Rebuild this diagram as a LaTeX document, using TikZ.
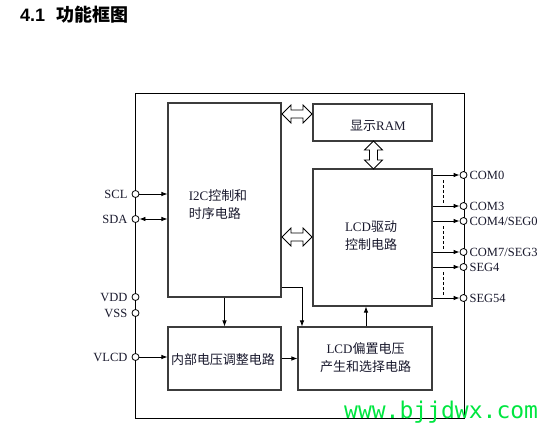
\documentclass[tikz,border=0pt]{standalone}
\usepackage{fontspec}
\setmainfont{Liberation Serif}
\newfontfamily\cjk{Noto Sans CJK SC}
\newfontfamily\titlefont{Liberation Sans}
\newfontfamily\wmfont{DejaVu Sans Mono}
\usetikzlibrary{arrows.meta}
\definecolor{boxc}{RGB}{60,60,60}
\definecolor{txtc}{RGB}{25,25,45}
\definecolor{wmgreen}{RGB}{0,230,64}
\newcommand{\zh}[1]{{\cjk #1}}
\begin{document}
\begin{tikzpicture}[x=1pt,y=-1pt,
  blk/.style={draw=boxc, line width=1.1pt, rectangle, inner sep=0pt},
  txt/.style={text=txtc, font=\fontsize{13}{18}\selectfont, inner sep=0pt, align=center},
  pinc/.style={circle, draw=black, fill=white, line width=0.8pt, minimum size=7pt, inner sep=0pt},
  pinl/.style={text=txtc, font=\fontsize{12.5}{14}\selectfont, inner sep=0pt},
  arr/.style={draw=black, line width=0.8pt, -{Latex[length=6pt,width=4.5pt]}},
  darr/.style={draw=black, line width=0.8pt, {Latex[length=6pt,width=4.5pt]}-{Latex[length=6pt,width=4.5pt]}},
  dsh/.style={draw=black, line width=0.7pt, dash pattern=on 3pt off 2pt},
  hda/.pic={\draw[fill=white, line width=0.8pt, line join=miter]
     (-\hl,0) -- (-\hl+9,-9) -- (-\hl+9,-4) -- (\hl-9,-4) -- (\hl-9,-9) -- (\hl,0)
     -- (\hl-9,9) -- (\hl-9,4) -- (-\hl+9,4) -- (-\hl+9,9) -- cycle;}
]
\useasboundingbox (0,0) rectangle (550,429);
% title
\node[anchor=base west, inner sep=0pt, font=\fontsize{18}{20}\selectfont\bfseries] (title) at (20,21.5)
  {\titlefont 4.1\hspace{11pt}\cjk 功能框图};
% outer frame
\node[draw=black, line width=0.9pt, minimum width=328.5pt, minimum height=325pt, inner sep=0pt] (outer) at (299.75,255.5) {};
% blocks
\node[blk, minimum width=113pt, minimum height=194pt] (i2c) at (224.5,200) {};
\node[blk, minimum width=119pt, minimum height=37pt] (ram) at (372.5,122.5) {};
\node[blk, minimum width=119pt, minimum height=137pt] (lcd) at (372.5,237.5) {};
\node[blk, minimum width=113pt, minimum height=63pt] (vreg) at (224.5,358.5) {};
\node[blk, minimum width=134pt, minimum height=63pt] (bias) at (365,358.5) {};
% block texts
\node[txt, align=left] (i2ct) at (218,205) {I2C\zh{控制和}\\\zh{时序电路}};
\node[txt] (ramt) at (378,126) {\zh{显示}RAM};
\node[txt] (lcdt) at (371,235.5) {LCD\zh{驱动}\\\zh{控制电路}};
\node[txt] (vregt) at (223,360) {\zh{内部电压调整电路}};
\node[txt] (biast) at (365.5,358) {LCD\zh{偏置电压}\\\zh{产生和选择电路}};
% hollow double arrows (between i2c/ram, i2c/lcd, ram/lcd)
\def\hl{15}
\pic at (297,114) {hda};
\pic at (297,237) {hda};
\def\hl{14}
\pic[rotate=90] at (373.5,155) {hda};
% left pins
\node[pinc, label={[pinl, label distance=4pt]left:SCL}] (scl) at (135.5,194) {};
\node[pinc, label={[pinl, label distance=4pt]left:SDA}] (sda) at (135.5,219) {};
\node[pinc, label={[pinl, label distance=4pt]left:VDD}] (vdd) at (135.5,297) {};
\node[pinc, label={[pinl, label distance=4pt]left:VSS}] (vss) at (135.5,313) {};
\node[pinc, label={[pinl, label distance=4pt]left:VLCD}] (vlcd) at (135.5,357) {};
% right pins
\node[pinc, label={[pinl, label distance=2pt]right:COM0}] (com0) at (463.5,175) {};
\node[pinc, label={[pinl, label distance=2pt]right:COM3}] (com3) at (463.5,206) {};
\node[pinc, label={[pinl, label distance=2pt]right:COM4/SEG0}] (com4) at (463.5,221) {};
\node[pinc, label={[pinl, label distance=2pt]right:COM7/SEG3}] (com7) at (463.5,252) {};
\node[pinc, label={[pinl, label distance=2pt]right:SEG4}] (seg4) at (463.5,267) {};
\node[pinc, label={[pinl, label distance=2pt]right:SEG54}] (seg54) at (463.5,298) {};
% connectors
\draw[arr] (scl) -- (scl -| i2c.west);
\draw[darr] (sda) -- (sda -| i2c.west);
\draw[arr] (vlcd) -- (vlcd -| vreg.west);
\draw[arr] (vreg) -- (bias);
\draw[arr] (i2c.south) -- (vreg.north);
\coordinate (bend) at (302,287);
\draw[arr] (i2c.east |- bend) -- (bend) -- (bend |- bias.north);
\coordinate (bx) at (366,0);
\draw[arr] (bias.north -| bx) -- (lcd.south -| bx);
\foreach \p in {com0,com3,com4,com7,seg4,seg54}
  \draw[arr] (lcd.east |- \p) -- (\p);
% dashed continuation marks
\draw[dsh] (443,180) -- (443,203);
\draw[dsh] (443,226) -- (443,249);
\draw[dsh] (443,272) -- (443,295);
% watermark
\node[anchor=base west, inner sep=0pt, text=wmgreen, font=\wmfont\fontsize{23}{23}\selectfont] (wm) at (344,418.5) {www.bjjdwx.com};
\end{tikzpicture}
\end{document}
